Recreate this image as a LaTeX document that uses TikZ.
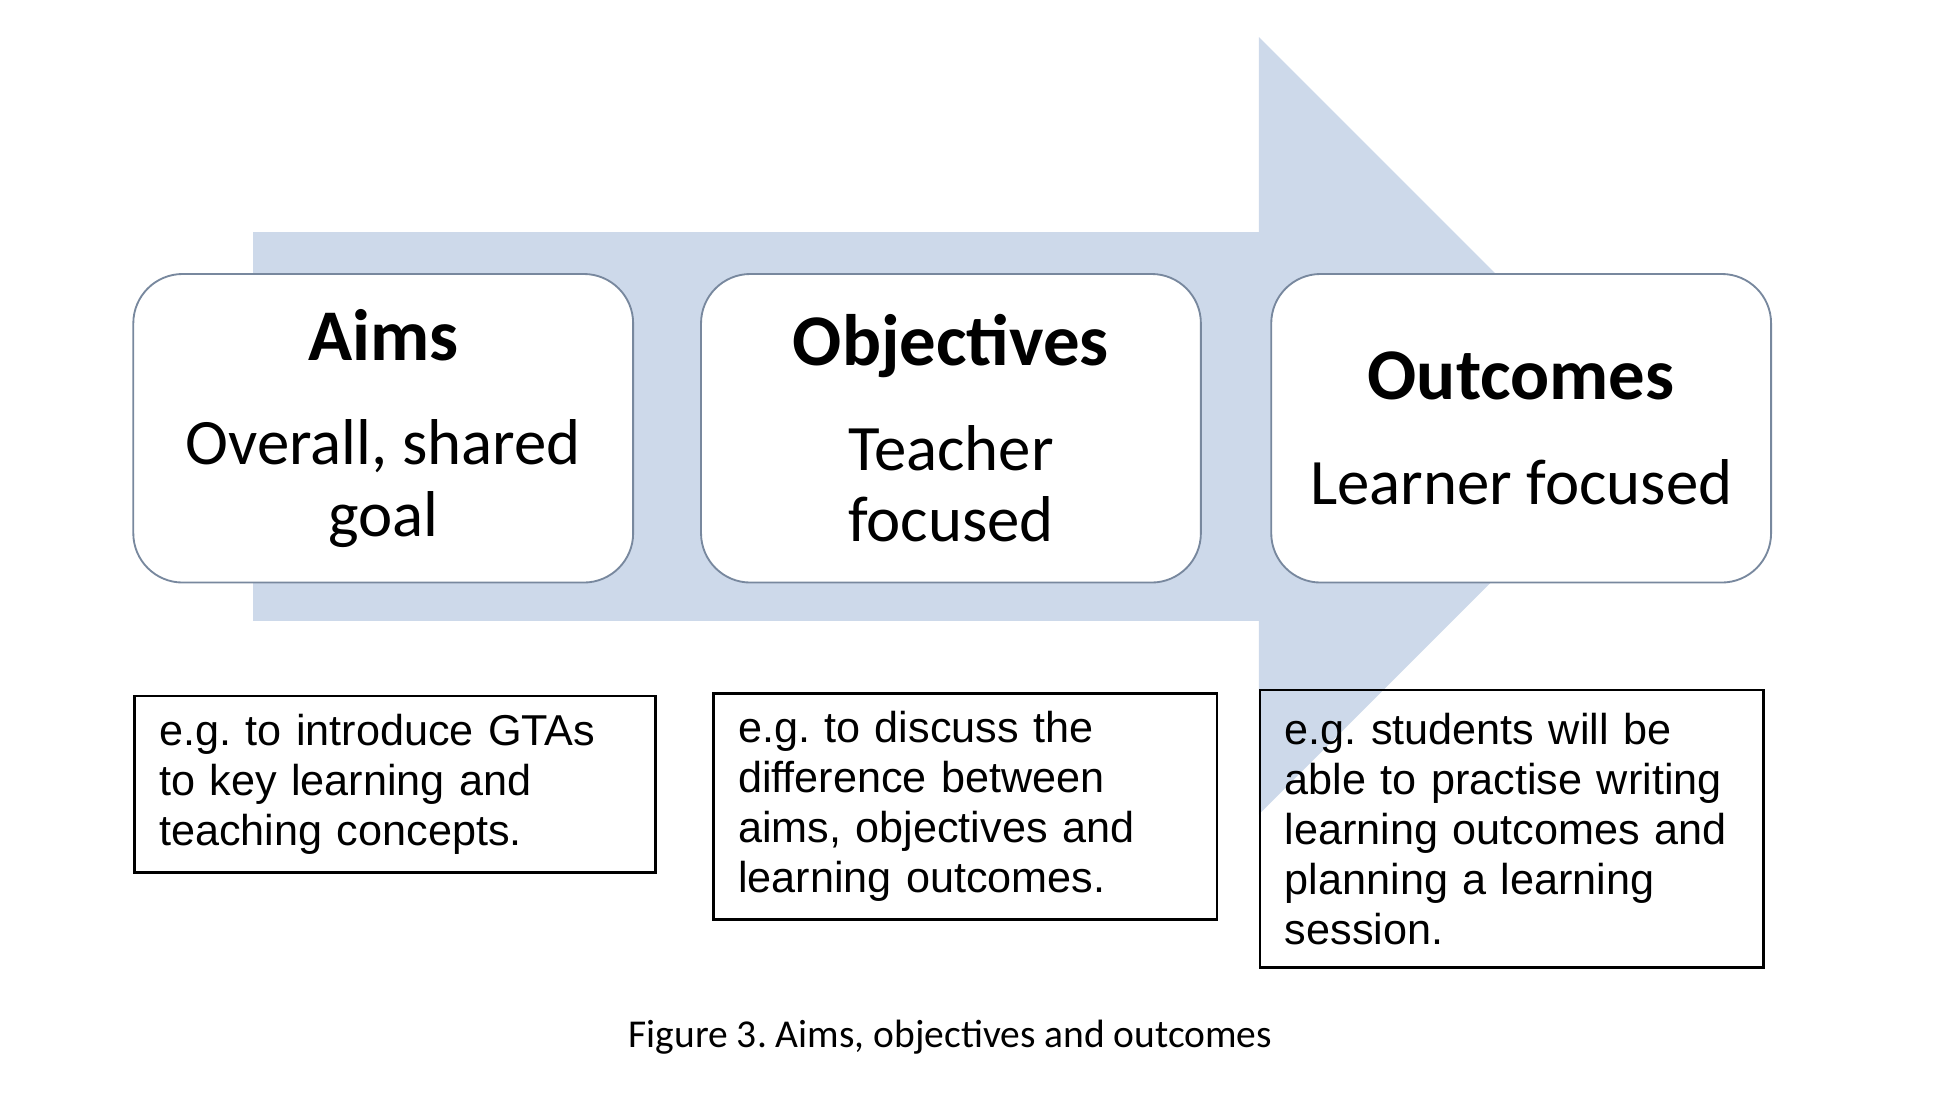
\documentclass[tikz,border=0pt]{standalone}
\usepackage{fontspec}
\setmainfont{Carlito}
\newfontfamily\arialfont{Liberation Sans}
\frenchspacing
\definecolor{arrowblue}{RGB}{205,217,234}
\definecolor{boxline}{RGB}{120,136,158}
\tikzset{
	stage/.style={draw=boxline, line width=1.5pt, fill=white, rounded corners=40pt, minimum width=405pt, minimum height=250pt, align=center, font=\fontsize{52.5}{58}\selectfont},
	example/.style={draw=black, line width=2pt, anchor=north west, inner xsep=20pt, align=left, font=\arialfont\fontsize{35}{40.5}\selectfont},
}
\begin{document}
\begin{tikzpicture}[x=1pt,y=-1pt]
	\useasboundingbox (0,0) rectangle (1567,885);
	
	\fill[arrowblue] (205,188) -- (1020,188) -- (1020,30) -- (1335,345) -- (1020,660) -- (1020,503) -- (205,503) -- cycle;
	
	\node[stage] (aims) at (310.5,347) {{\bfseries\fontsize{59}{58}\selectfont Aims}\\[27pt]Overall, shared\\goal};
	\node[stage] (objectives) at (770.5,347) {{\bfseries\fontsize{59}{58}\selectfont Objectives}\\[27pt]Teacher\\focused};
	\node[stage] (outcomes) at (1232.5,347) {{\bfseries\fontsize{59}{58}\selectfont Outcomes}\\[27pt]Learner focused};
	
	\node[example, text width=382pt, minimum height=143pt] (aimsex) at (108,563) {e.g. to introduce GTAs\\to key learning and\\teaching concepts.};
	\node[example, text width=368pt, minimum height=183pt] (objectivesex) at (577,561) {e.g. to discuss the\\difference between\\aims, objectives and\\learning outcomes.};
	\node[example, text width=368pt, minimum height=225pt] (outcomesex) at (1020,558) {e.g. students will be\\able to practise writing\\learning outcomes and\\planning a learning\\session.};
	
	\node[font=\fontsize{32}{36}\selectfont] (caption) at (770,840) {Figure 3. Aims, objectives and outcomes};
\end{tikzpicture}
\end{document}
